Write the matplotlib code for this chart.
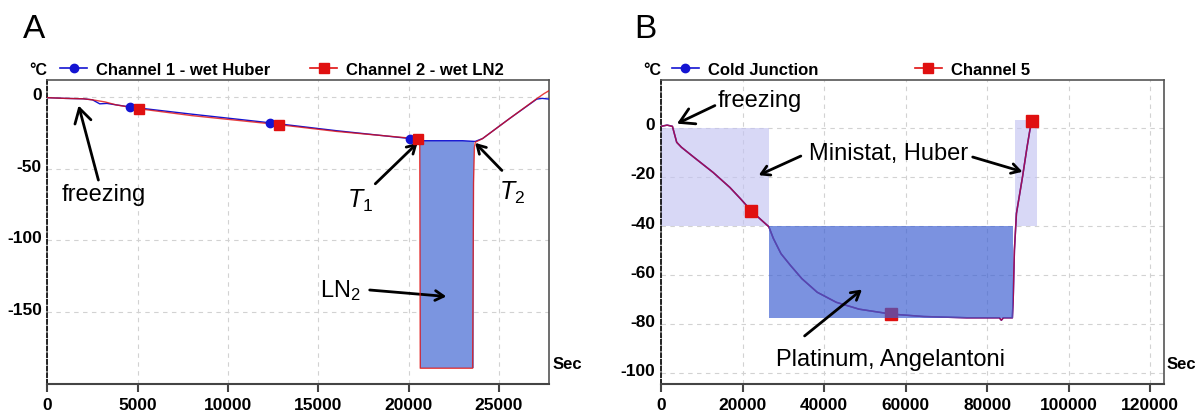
import numpy as np
import matplotlib
matplotlib.use('Agg')
import matplotlib.pyplot as plt
import matplotlib.transforms as mtransforms

plt.rcParams['font.family'] = ['Liberation Sans', 'DejaVu Sans']
plt.rcParams['mathtext.fontset'] = 'custom'
plt.rcParams['mathtext.rm'] = 'Liberation Sans'
plt.rcParams['mathtext.it'] = 'Liberation Sans:italic'
plt.rcParams['axes.unicode_minus'] = False

# ---- panel A : two channels, Huber then LN2 ----
ch1_x = [0, 1000, 2000, 2500, 2900, 3300, 3800, 4590, 8000, 12330, 16000, 20100,
         20600, 23000, 23690, 24100, 25600, 27100, 27400, 27800]
ch1_y = [-0.5, -1.0, -1.3, -2.0, -4.8, -4.5, -5.5, -7.0, -12.0, -18.0, -23.5, -29.0,
         -30.5, -30.5, -31.0, -29.0, -15.0, -1.5, -1.0, -1.5]
ch2_x = [0, 1000, 2000, 2500, 3200, 3800, 5060, 8000, 12820, 16000, 20540, 20620,
         20650, 23550, 23600, 23650, 23700, 24100, 25600, 27100, 27500, 27800]
ch2_y = [-0.5, -1.0, -1.3, -2.0, -3.5, -5.5, -8.2, -13.0, -19.3, -24.0, -29.2, -30.5,
         -189, -189, -60, -35, -31.5, -29.0, -15.0, -1.2, 2.3, 4.5]
ch1_mark_x = [4590, 12330, 20100]
ch1_mark_y = [-7.0, -18.0, -29.0]
ch2_mark_x = [5060, 12820, 20540]
ch2_mark_y = [-8.2, -19.3, -29.2]
ln2_span = [20620, 23600]
ln2_top, ln2_bottom = -30.5, -189

# ---- panel B : cold junction / channel 5 ----
ch5_x = [0, 1500, 2800, 3200, 3850, 5000, 8000, 12800, 16900, 19500, 22200, 24500,
         26450, 27570, 29440, 31780, 34580, 38320, 43000, 48600, 56500, 64500, 75000,
         83000, 83500, 84000, 86200, 86400, 86700, 87200, 88700, 89800, 90500, 91000]
ch5_y = [0.5, 1.0, 0.5, -2.0, -6.0, -8.0, -12.0, -18.3, -24.4, -29.0, -34.0, -37.5,
         -40.4, -45.2, -51.4, -56.2, -61.6, -67.1, -71.2, -74.0, -76.0, -77.0, -77.5,
         -77.5, -78.5, -77.5, -77.5, -70.0, -50.0, -35.0, -20.0, -8.0, -1.0, 2.5]
cold_x = ch5_x
cold_y = ch5_y
ch5_mark_x = [22200, 56500, 91000]
ch5_mark_y = [-34.0, -76.0, 2.5]
huber_spans = [[0, 26450], [86800, 92200]]
huber_tops = [0, 3]
huber_bottom = -40
platinum_span = [26450, 86300]
platinum_top, platinum_bottom = -40, -77.5

BLUE = '#1414d2'
RED = '#e01010'
FILL_DARK = '#7b95e0'


def style_axes(ax, xticks, yticks, xlim, ylim):
    ax.set_xlim(*xlim)
    ax.set_ylim(*ylim)
    ax.set_xticks(xticks)
    ax.set_yticks(yticks)
    ax.grid(True, color='#d2d2d2', linestyle=(0, (4, 4)), lw=0.8)
    ax.set_axisbelow(True)
    ax.spines['left'].set_linestyle((0, (2.5, 1.5)))
    ax.spines['left'].set_color('black')
    ax.spines['left'].set_linewidth(1.2)
    ax.spines['bottom'].set_color('#444444')
    ax.spines['bottom'].set_linewidth(1.5)
    for s in ['top', 'right']:
        ax.spines[s].set_color('#555555')
        ax.spines[s].set_linewidth(1.2)
    ax.tick_params(axis='x', direction='out', length=6, width=1.5, color='#444444',
                   labelsize=12.5, pad=3)
    ax.tick_params(axis='y', length=0, labelsize=12.5, pad=4)
    for lab in ax.get_xticklabels() + ax.get_yticklabels():
        lab.set_fontweight('bold')
    off = mtransforms.ScaledTranslation(0, 3 / 72, ax.figure.dpi_scale_trans)
    for lab in ax.get_yticklabels():
        lab.set_transform(lab.get_transform() + off)
    ax.text(-0.018, 1.035, '°C', transform=ax.transAxes, ha='center', va='center',
            fontsize=11.5, fontweight='bold')
    ax.text(1.006, 0.066, 'Sec', transform=ax.transAxes, ha='left', va='center',
            fontsize=12, fontweight='bold')


arrow = dict(arrowstyle='->,head_length=0.6,head_width=0.35', color='black', lw=2,
             shrinkA=0, shrinkB=0)

fig = plt.figure(figsize=(11.99, 4.14), dpi=100)
axA = fig.add_axes([0.0395, 0.070, 0.4187, 0.735])
axB = fig.add_axes([0.5513, 0.070, 0.4195, 0.735])

# panel A
axA.fill_between(ln2_span, ln2_bottom, ln2_top, color=FILL_DARK, lw=0, zorder=2)
axA.plot(ch1_x, ch1_y, color=BLUE, lw=1.0, zorder=3)
axA.plot(ch2_x, ch2_y, color=RED, lw=1.0, alpha=0.8, zorder=4)
axA.plot(ch1_mark_x, ch1_mark_y, 'o', color=BLUE, ms=6, zorder=5)
axA.plot(ch2_mark_x, ch2_mark_y, 's', color=RED, ms=6.5, zorder=6)
hA1, = axA.plot([], [], '-o', color=BLUE, ms=6, lw=1.2)
hA2, = axA.plot([], [], '-s', color=RED, ms=6.5, lw=1.2)
style_axes(axA, [0, 5000, 10000, 15000, 20000, 25000], [0, -50, -100, -150],
           (0, 27800), (-200, 12))
legA = axA.legend([hA1, hA2], ['Channel 1 - wet Huber', 'Channel 2 - wet LN2'],
                  loc='center left', bbox_to_anchor=(0.026, 1.035), ncol=2,
                  frameon=False, borderpad=0, borderaxespad=0, handlelength=1.6,
                  handletextpad=0.55, columnspacing=2.4,
                  prop=dict(weight='bold', size=12))

axA.annotate('freezing', xy=(1730, -6), xytext=(3100, -67.5), fontsize=17,
             ha='center', va='center', arrowprops=dict(arrow, relpos=(0.45, 1.0)))
axA.annotate('', xy=(20500, -32), xytext=(18160, -60.5), arrowprops=arrow)
axA.text(17300, -72, '$T_1$', fontsize=18, ha='center', va='center')
axA.annotate('', xy=(23690, -32), xytext=(25170, -51.2), arrowprops=arrow)
axA.text(25750, -66, '$T_2$', fontsize=18, ha='center', va='center')
axA.annotate('', xy=(22090, -139), xytext=(17850, -134.5), arrowprops=arrow)
axA.text(16250, -134, 'LN$_2$', fontsize=17, ha='center', va='center')

# panel B
for (x0, x1), top in zip(huber_spans, huber_tops):
    axB.fill_between([x0, x1], huber_bottom, top, color='#c4c4f2', alpha=0.65,
                     lw=0, zorder=2)
axB.plot(cold_x, cold_y, color=BLUE, lw=1.1, zorder=3)
axB.plot(ch5_x, ch5_y, color='#c0103a', lw=1.1, alpha=0.8, zorder=4)
axB.plot(ch5_mark_x, ch5_mark_y, 's', color=RED, ms=8, zorder=5)
axB.fill_between(platinum_span, platinum_bottom, platinum_top, color='#3c5fd2',
                 alpha=0.68, lw=0, zorder=6)
hB1, = axB.plot([], [], '-o', color=BLUE, ms=6, lw=1.2)
hB2, = axB.plot([], [], '-s', color=RED, ms=6.5, lw=1.2)
style_axes(axB, [0, 20000, 40000, 60000, 80000, 100000, 120000],
           [0, -20, -40, -60, -80, -100], (0, 123400), (-104.5, 19.5))
legB = axB.legend([hB1, hB2], ['Cold Junction', 'Channel 5'],
                  loc='center left', bbox_to_anchor=(0.022, 1.035), ncol=2,
                  frameon=False, borderpad=0, borderaxespad=0, handlelength=1.6,
                  handletextpad=0.55, columnspacing=5.8,
                  prop=dict(weight='bold', size=12))

axB.annotate('freezing', xy=(3920, 1.6), xytext=(13900, 11.3), fontsize=17,
             ha='left', va='center', arrowprops=dict(arrow, relpos=(0.0, 0.3)))
axB.text(55750, -10.5, 'Ministat, Huber', fontsize=17, ha='center', va='center')
axB.annotate('', xy=(23970, -19.4), xytext=(34300, -11.6), arrowprops=arrow, zorder=7)
axB.annotate('', xy=(88680, -18), xytext=(76470, -12), arrowprops=arrow, zorder=7)
axB.text(56200, -94.5, 'Platinum, Angelantoni', fontsize=17, ha='center', va='center')
axB.annotate('', xy=(49300, -66), xytext=(35230, -84.9), arrowprops=arrow, zorder=7)

fig.text(0.019, 0.928, 'A', fontsize=24, ha='left', va='center')
fig.text(0.529, 0.928, 'B', fontsize=24, ha='left', va='center')

fig.savefig('out.png', dpi=100)
